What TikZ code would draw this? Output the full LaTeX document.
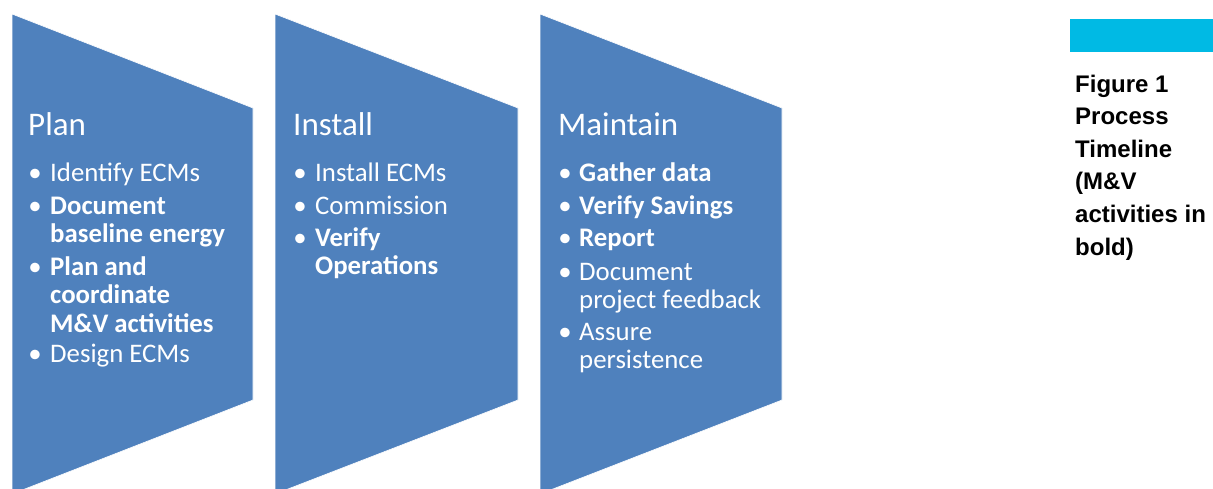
\documentclass[tikz,border=0pt]{standalone}
\usepackage{fontspec}
\setmainfont{Carlito}
\newfontfamily\capfont{Liberation Sans}
\definecolor{chev}{RGB}{79,129,189}
\definecolor{capbar}{RGB}{0,186,228}
\newcommand{\lines}[1]{\begin{tabular}[t]{@{}l@{}}#1\end{tabular}}
\tikzset{
  chevshape/.style={fill=chev, draw=white, line width=0.6pt, line join=miter},
  ttl/.style={anchor=base west, inner sep=0pt, text=white, font=\fontsize{33}{36}\selectfont},
  itm/.style={anchor=base west, inner sep=0pt, text=white, font=\fontsize{26.8}{28.5}\selectfont},
  itmb/.style={itm, font=\fontsize{26.8}{28.5}\selectfont\bfseries},
  bul/.style={anchor=base, inner sep=0pt, text=white, font=\fontsize{26.8}{28.5}\selectfont},
  captext/.style={anchor=base west, inner sep=0pt, text=black, font=\capfont\bfseries\fontsize{24}{32.6}\selectfont}
}
\begin{document}
\begin{tikzpicture}[x=1pt,y=-1pt]
\useasboundingbox (0,0) rectangle (1213,488);
\begin{scope}
\clip (0,0) rectangle (1213,488);
\path[chevshape] (12,14) -- (253,108) -- (253,400) -- (12,494) -- cycle;
\path[chevshape] (275,14) -- (518,108) -- (518,400) -- (275,494) -- cycle;
\path[chevshape] (540,14) -- (782,108) -- (782,400) -- (540,494) -- cycle;
\end{scope}
% Plan
\node[ttl] (plan) at (28,135.5) {Plan};
\node[bul] (pb1) at (35,181) {•};
\node[itm] (p1) at (50,181) {Identify ECMs};
\node[bul] (pb2) at (35,214) {•};
\node[itmb] (p2) at (50,214) {\lines{Document\\baseline energy}};
\node[bul] (pb3) at (35,275) {•};
\node[itmb] (p3) at (50,275) {\lines{Plan and\\coordinate\\M\&V activities}};
\node[bul] (pb4) at (35,362) {•};
\node[itm] (p4) at (50,362) {Design ECMs};
% Install
\node[ttl] (install) at (293,135.5) {Install};
\node[bul] (ib1) at (300,181) {•};
\node[itm] (i1) at (315,181) {Install ECMs};
\node[bul] (ib2) at (300,214) {•};
\node[itm] (i2) at (315,214) {Commission};
\node[bul] (ib3) at (300,246) {•};
\node[itmb] (i3) at (315,246) {\lines{Verify\\Operations}};
% Maintain
\node[ttl] (maintain) at (558,135.5) {Maintain};
\node[bul] (mb1) at (565,181) {•};
\node[itmb] (m1) at (579,181) {Gather data};
\node[bul] (mb2) at (565,214) {•};
\node[itmb] (m2) at (579,214) {Verify Savings};
\node[bul] (mb3) at (565,246) {•};
\node[itmb] (m3) at (579,246) {Report};
\node[bul] (mb4) at (565,280) {•};
\node[itm] (m4) at (579,280) {\lines{Document\\project feedback}};
\node[bul] (mb5) at (565,340) {•};
\node[itm] (m5) at (579,340) {\lines{Assure\\persistence}};
% caption
\fill[capbar] (1070,19) rectangle (1213,52);
\node[captext] (caption) at (1075,92) {\lines{Figure 1\\Process\\Timeline\\(M\&V\\activities in\\bold)}};
\end{tikzpicture}
\end{document}
